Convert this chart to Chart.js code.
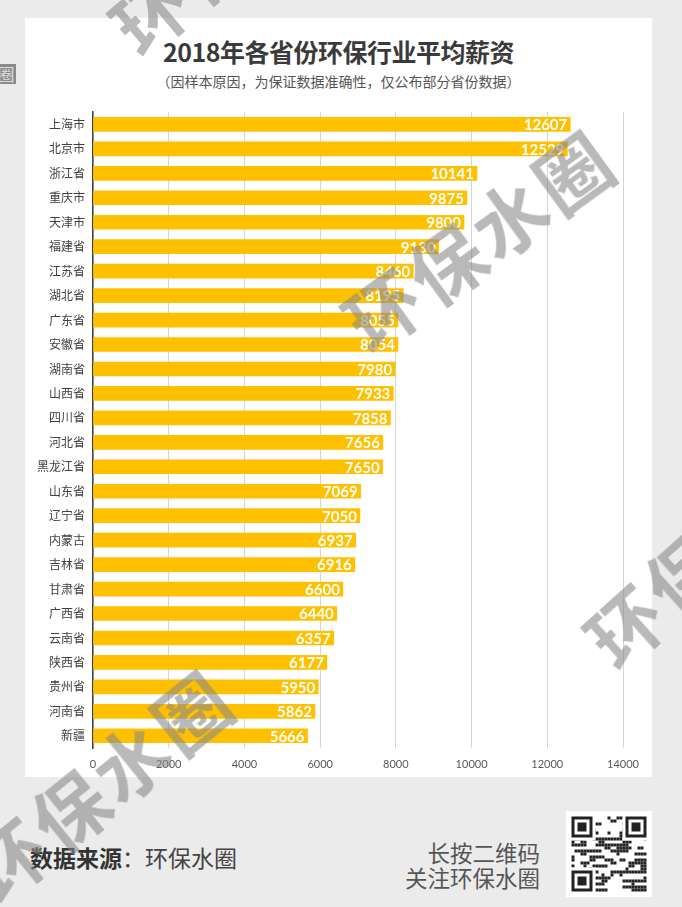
<!DOCTYPE html>
<html><head><meta charset="utf-8">
<script src="https://cdn.jsdelivr.net/npm/chart.js@4"></script>
<style>
html,body{margin:0;padding:0;}
body{width:682px;height:907px;background:#ebebeb;position:relative;overflow:hidden;font-family:"Noto Sans CJK SC","Noto Sans",sans-serif;}
#card{position:absolute;left:25px;top:18px;width:627px;height:759px;background:#fff;}
#title{position:absolute;left:0;top:15px;width:627px;text-align:center;font-size:25px;font-weight:bold;color:#3a3a3a;letter-spacing:-0.5px;}
#sub{position:absolute;left:0;top:53px;width:627px;text-align:center;font-size:14px;color:#555;}
#wrap{position:absolute;left:0;top:79px;width:627px;height:683px;}
.wm{position:absolute;font-weight:bold;color:rgba(135,135,135,0.58);white-space:nowrap;letter-spacing:4px;pointer-events:none;font-size:74px;line-height:1;}
#src{position:absolute;left:30px;top:840px;font-size:23px;color:#444;letter-spacing:0px;}
#src b{font-weight:bold;color:#333;}
#follow{position:absolute;right:142px;top:840px;font-size:22.5px;color:#555;text-align:right;line-height:25px;}
#qr{position:absolute;left:566px;top:811px;}
#tag{position:absolute;left:-4px;top:64px;width:20px;height:20px;background:#8a8a8a;color:#ddd;font-size:17px;line-height:20px;text-align:center;}
</style></head><body>
<div id="card">
  <div id="title">2018年各省份环保行业平均薪资</div>
  <div id="sub">（因样本原因，为保证数据准确性，仅公布部分省份数据）</div>
  <div id="wrap"><canvas id="c"></canvas></div>
</div>
<div id="tag">圈</div>
<div id="src"><b>数据来源</b>：环保水圈</div>
<div id="follow">长按二维码<br>关注环保水圈</div>
<canvas id="qr" width="86" height="86"></canvas>
<div class="wm" style="left:478px;top:238px;transform:translate(-50%,-50%) rotate(-36deg);">环保水圈</div>
<div class="wm" style="left:712px;top:545px;transform:translate(-50%,-50%) rotate(-42deg);">环保水圈</div>
<div class="wm" style="left:100px;top:783px;transform:translate(-50%,-50%) rotate(-39deg);">环保水圈</div>
<div class="wm" style="left:240px;top:-65px;transform:translate(-50%,-50%) rotate(-40deg);">环保水圈</div>
<script>
const categories = ["上海市","北京市","浙江省","重庆市","天津市","福建省","江苏省","湖北省","广东省","安徽省","湖南省","山西省","四川省","河北省","黑龙江省","山东省","辽宁省","内蒙古","吉林省","甘肃省","广西省","云南省","陕西省","贵州省","河南省","新疆"];
const salaries = [12607,12529,10141,9875,9800,9130,8460,8195,8055,8054,7980,7933,7858,7656,7650,7069,7050,6937,6916,6600,6440,6357,6177,5950,5862,5666];
const xTicks = [0,2000,4000,6000,8000,10000,12000,14000];

const valueLabels = {
  id:'valueLabels',
  afterDatasetsDraw(chart){
    const ctx = chart.ctx;
    const meta = chart.getDatasetMeta(0);
    ctx.save();
    ctx.fillStyle = '#fff';
    ctx.font = 'bold 15px Lato, "Open Sans", sans-serif';
    ctx.textAlign = 'right';
    ctx.textBaseline = 'middle';
    meta.data.forEach((bar,i)=>{
      ctx.fillText(String(chart.data.datasets[0].data[i]), bar.x - 3, bar.y + 1);
    });
    ctx.restore();
  }
};

new Chart(document.getElementById('c'), {
  type:'bar',
  data:{labels:categories, datasets:[{data:salaries, backgroundColor:'#FFC000', barThickness:14, borderWidth:0}]},
  options:{
    indexAxis:'y',
    responsive:true, maintainAspectRatio:false, animation:false,
    layout:{padding:{top:5,right:29,left:0,bottom:0}},
    plugins:{legend:{display:false}, tooltip:{enabled:false}},
    scales:{
      x:{
        min:0,max:14000,
        afterBuildTicks(s){ s.ticks = xTicks.map(v=>({value:v})); },
        grid:{color:'#d4d4d4', drawTicks:false, lineWidth:1},
        border:{display:false},
        ticks:{color:'#595959', font:{size:11, family:'Lato, "Open Sans", sans-serif'}, padding:10, callback:(v)=>String(v)},
        afterFit(s){ s.height = 32; }
      },
      y:{
        grid:{display:false, drawTicks:false},
        border:{display:true, color:'#404040', width:1.5},
        ticks:{color:'#404040', font:{size:12, family:'"Noto Sans CJK SC", sans-serif'}, padding:8},
        afterFit(s){ s.width = 68; }
      }
    }
  },
  plugins:[valueLabels]
});

// decorative QR-like block
(function(){
  const q = document.getElementById('qr').getContext('2d');
  q.fillStyle='#fff'; q.fillRect(0,0,86,86);
  const n=25, m=3, off=5.5;
  q.fillStyle='#222';
  let s=7;
  for(let r=0;r<n;r++)for(let c=0;c<n;c++){
    s=(s*1103515245+12345)&0x7fffffff;
    if((s>>8)%2) q.fillRect(off+c*m,off+r*m,m,m);
  }
  function finder(x,y){
    q.fillStyle='#fff';q.fillRect(off+x*m-m,off+y*m-m,9*m,9*m);
    q.fillStyle='#222';q.fillRect(off+x*m,off+y*m,7*m,7*m);
    q.fillStyle='#fff';q.fillRect(off+(x+1)*m,off+(y+1)*m,5*m,5*m);
    q.fillStyle='#222';q.fillRect(off+(x+2)*m,off+(y+2)*m,3*m,3*m);
  }
  finder(0,0);finder(18,0);finder(0,18);
})();
</script>
</body></html>
